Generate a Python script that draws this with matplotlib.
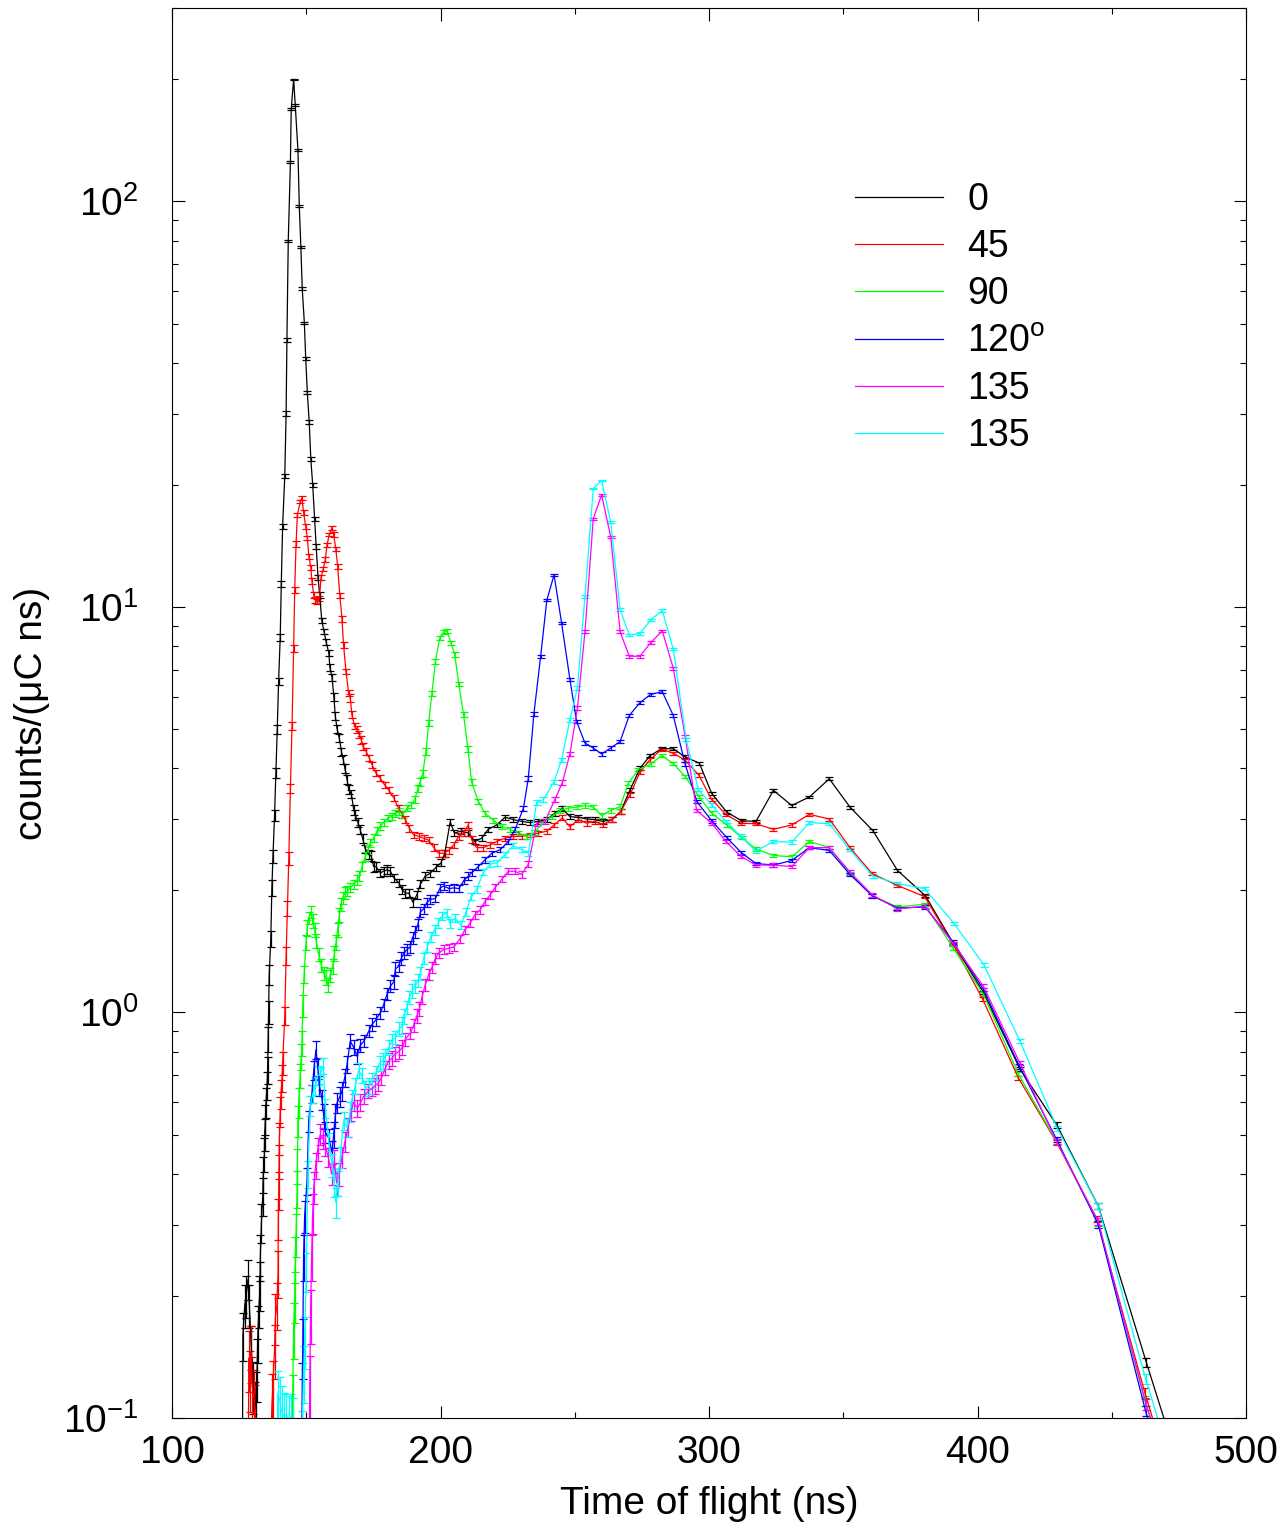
import matplotlib
matplotlib.use("Agg")
import matplotlib.pyplot as plt
from matplotlib.ticker import MultipleLocator, LogLocator, FixedLocator, NullFormatter
from matplotlib.lines import Line2D
import numpy as np

plt.rcParams['font.family'] = ['Liberation Sans', 'DejaVu Sans']
plt.rcParams['mathtext.fontset'] = 'custom'
plt.rcParams['mathtext.rm'] = 'Liberation Sans'
plt.rcParams['mathtext.it'] = 'Liberation Sans:italic'

# Time of flight spectra (ns, counts/(uC ns))
tof_0 = [126.0, 126.4, 127.1, 127.6, 128.3, 128.8, 129.5, 130.2, 130.8, 131.3, 131.7, 132.0, 132.5, 132.8, 132.9,
         133.3, 133.8, 134.0, 134.4, 134.5, 134.8, 135.0, 135.4, 135.6, 135.8, 136.0, 136.2, 136.8, 137.2, 137.6,
         138.2, 138.7, 139.2, 139.7, 140.3, 140.7, 141.2, 142.0, 142.5, 142.8, 143.3, 144.1, 144.4, 145.3, 145.9,
         146.9, 147.4, 148.0, 148.5, 149.3, 149.8, 150.4, 151.1, 151.7, 152.4, 153.1, 153.7, 154.4, 155.0, 155.8,
         156.6, 157.4, 158.4, 158.8, 159.6, 160.3, 160.8, 161.5, 162.3, 163.1, 163.8, 164.4, 165.2, 165.8, 166.8,
         167.7, 168.3, 169.2, 170.1, 171.0, 172.0, 173.3, 174.2, 175.1, 176.0, 177.6, 178.8, 180.1, 181.3, 182.6,
         184.4, 185.7, 186.9, 188.2, 189.7, 191.2, 192.5, 194.3, 196.0, 198.3, 200.2, 201.6, 203.6, 205.2, 207.5,
         210.3, 212.8, 215.3, 217.8, 220.9, 224.0, 227.1, 230.2, 233.3, 236.4, 239.6, 242.6, 245.4, 248.2, 251.3,
         254.4, 257.5, 260.4, 263.8, 267.1, 270.6, 274.3, 278.0, 282.4, 286.7, 291.1, 296.4, 301.0, 306.6, 312.2,
         317.5, 324.0, 330.8, 337.4, 344.8, 352.5, 361.0, 370.2, 380.6, 391.0, 402.2, 415.8, 429.5, 445.0, 462.9,
         481.0]
cnt_0 = [0.03, 0.16, 0.19, 0.20, 0.22, 0.19, 0.15, 0.12, 0.105, 0.11, 0.133, 0.163, 0.195, 0.213, 0.25,
         0.303, 0.353, 0.40, 0.447, 0.50, 0.545, 0.60, 0.66, 0.72, 0.86, 1.0, 1.24, 1.52, 2.03, 2.43,
         3.07, 3.89, 5.0, 6.55, 8.4, 11.4, 15.8, 21.0, 30.0, 45.5, 80.0, 125.0, 169.0, 200.0, 173.0,
         134.0, 97.6, 77.1, 61.0, 50.1, 41.0, 33.8, 28.6, 23.2, 20.0, 16.5, 14.1, 11.8, 10.7, 9.25,
         8.7, 8.2, 7.7, 7.1, 6.7, 6.0, 5.4, 5.0, 4.75, 4.4, 4.2, 4.0, 3.75, 3.55, 3.45,
         3.16, 3.07, 2.94, 2.82, 2.69, 2.53, 2.45, 2.43, 2.29, 2.29, 2.21, 2.23, 2.25, 2.23, 2.15,
         2.09, 2.01, 1.97, 1.97, 1.87, 1.95, 2.07, 2.17, 2.20, 2.28, 2.34, 2.47, 2.95, 2.77, 2.80,
         2.77, 2.64, 2.69, 2.83, 2.90, 3.03, 2.99, 2.96, 2.94, 2.96, 2.99, 3.10, 3.18, 3.04, 3.03,
         3.0, 2.99, 2.96, 2.99, 3.13, 3.54, 4.0, 4.3, 4.47, 4.47, 4.27, 4.12, 3.47, 3.12, 2.97,
         2.96, 3.53, 3.24, 3.40, 3.77, 3.21, 2.81, 2.24, 1.94, 1.48, 1.12, 0.726, 0.528, 0.333, 0.137,
         0.057]

tof_45 = [128.2, 128.6, 129.0, 129.5, 129.9, 130.4, 131.0, 131.8, 133.5, 135.5, 136.7, 137.2, 137.5, 138.2, 138.5,
          139.1, 139.5, 139.6, 139.75, 139.9, 140.0, 140.3, 140.6, 141.0, 141.2, 142.0, 142.5, 143.0, 143.5, 144.1,
          144.7, 145.3, 145.7, 146.2, 146.7, 147.8, 148.4, 149.0, 149.8, 150.4, 151.0, 151.7, 152.1, 152.8, 153.4,
          154.1, 154.9, 155.5, 156.3, 157.1, 157.7, 158.6, 159.6, 160.2, 161.0, 161.7, 162.5, 163.3, 163.9, 164.8,
          165.8, 166.4, 167.0, 168.0, 168.9, 169.8, 170.5, 171.2, 172.3, 173.5, 174.5, 176.0, 177.6, 179.2, 180.7,
          182.6, 184.4, 185.7, 186.9, 188.4, 190.0, 191.9, 193.7, 195.6, 197.5, 199.3, 201.2, 203.1, 204.9, 206.8,
          208.6, 210.3, 211.6, 213.5, 216.0, 218.5, 220.9, 224.0, 227.1, 230.2, 233.3, 236.4, 239.6, 242.3, 245.4,
          248.2, 251.3, 254.4, 257.5, 260.4, 263.8, 267.1, 270.6, 274.3, 278.0, 282.4, 286.7, 291.1, 296.2, 301.0,
          306.3, 311.8, 317.5, 324.0, 330.8, 337.4, 344.8, 352.5, 360.8, 370.0, 380.3, 391.0, 401.9, 415.2, 429.5,
          444.4, 462.4, 481.0]
cnt_45 = [0.03, 0.14, 0.125, 0.145, 0.12, 0.113, 0.105, 0.07, 0.05, 0.06, 0.08, 0.107, 0.118, 0.147, 0.177,
          0.19, 0.228, 0.31, 0.365, 0.43, 0.49, 0.57, 0.63, 0.69, 0.75, 0.98, 1.38, 1.81, 2.40, 3.57,
          5.1, 7.9, 11.0, 14.3, 16.9, 18.2, 18.6, 17.1, 15.8, 14.8, 13.3, 12.5, 11.6, 10.7, 10.4,
          10.3, 10.5, 11.8, 12.4, 13.1, 14.2, 15.1, 15.7, 15.1, 13.9, 12.6, 10.7, 9.35, 8.05, 6.93,
          6.13, 5.96, 5.42, 5.09, 4.98, 4.84, 4.70, 4.53, 4.40, 4.24, 4.08, 3.89, 3.78, 3.64, 3.54,
          3.38, 3.19, 3.08, 2.99, 2.85, 2.74, 2.72, 2.69, 2.66, 2.55, 2.47, 2.47, 2.51, 2.59, 2.72,
          2.77, 2.90, 2.67, 2.55, 2.55, 2.59, 2.64, 2.69, 2.72, 2.72, 2.74, 2.77, 2.80, 2.90, 3.02,
          2.87, 2.99, 2.93, 2.96, 2.90, 2.99, 3.13, 3.44, 3.92, 4.2, 4.46, 4.36, 4.19, 3.85, 3.35,
          3.08, 2.93, 2.92, 2.83, 2.90, 3.08, 3.0, 2.55, 2.20, 2.06, 1.93, 1.47, 1.08, 0.69, 0.478,
          0.31, 0.115, 0.045]

tof_90 = [144.4, 144.9, 145.3, 145.7, 145.9, 146.2, 146.6, 146.7, 146.9, 147.2, 147.7, 148.2, 148.4, 148.7, 149.2,
          149.9, 150.4, 150.9, 151.9, 152.4, 153.1, 153.7, 154.6, 155.6, 156.5, 157.4, 158.1, 159.0, 159.9, 160.5,
          161.1, 161.7, 162.3, 162.9, 163.6, 164.3, 165.2, 166.4, 167.7, 168.9, 169.8, 170.8, 172.0, 173.0, 173.9,
          175.1, 176.4, 177.6, 178.8, 180.4, 181.9, 183.2, 184.7, 185.9, 187.5, 189.1, 190.4, 191.6, 192.5, 193.4,
          194.6, 195.6, 196.8, 198.1, 199.7, 201.2, 202.4, 203.9, 205.3, 206.8, 208.6, 210.2, 211.6, 214.1, 216.6,
          219.7, 222.8, 225.9, 229.0, 232.1, 235.2, 238.3, 241.4, 244.5, 247.6, 250.7, 253.8, 256.9, 260.0, 263.4,
          266.9, 270.0, 273.7, 278.3, 282.4, 286.7, 291.1, 296.2, 301.0, 306.6, 312.2, 317.5, 324.0, 330.8, 337.4,
          344.8, 352.5, 360.8, 370.2, 380.3, 391.0, 402.2, 415.2, 429.5, 445.0, 462.4, 481.0]
cnt_90 = [0.04, 0.108, 0.166, 0.20, 0.247, 0.284, 0.368, 0.42, 0.54, 0.60, 0.70, 0.78, 0.84, 1.04, 1.24,
          1.49, 1.62, 1.71, 1.77, 1.68, 1.60, 1.50, 1.39, 1.31, 1.25, 1.22, 1.17, 1.24, 1.30, 1.40,
          1.49, 1.60, 1.74, 1.85, 1.92, 1.97, 1.99, 2.03, 2.07, 2.12, 2.17, 2.29, 2.43, 2.52, 2.62,
          2.69, 2.80, 2.88, 2.94, 3.02, 3.04, 3.09, 3.13, 3.08, 3.19, 3.25, 3.35, 3.57, 3.71, 3.89,
          4.40, 5.18, 6.13, 7.33, 8.37, 8.69, 8.74, 8.15, 7.63, 6.45, 5.42, 4.47, 3.70, 3.31, 3.10,
          2.98, 2.87, 2.83, 2.77, 2.72, 2.78, 2.96, 3.04, 3.15, 3.19, 3.21, 3.24, 3.21, 3.06, 3.15,
          3.22, 3.68, 3.97, 4.1, 4.3, 4.11, 3.82, 3.41, 3.1, 2.9, 2.70, 2.53, 2.44, 2.42, 2.64,
          2.55, 2.20, 1.94, 1.82, 1.85, 1.44, 1.11, 0.705, 0.48, 0.303, 0.11, 0.045]

tof_120 = [148.0, 148.5, 148.7, 149.0, 149.4, 150.3, 150.9, 152.1, 152.8, 153.6, 154.3, 154.9, 155.9, 156.5, 157.1,
           158.4, 159.6, 160.2, 160.8, 161.5, 162.5, 163.3, 164.3, 165.2, 166.4, 167.7, 168.9, 170.1, 171.5, 173.3,
           174.5, 176.0, 177.6, 178.8, 180.1, 181.3, 182.6, 183.2, 184.4, 185.4, 186.3, 187.5, 188.7, 189.6, 190.6,
           191.6, 192.5, 193.7, 195.0, 196.2, 198.1, 199.9, 201.2, 203.3, 205.0, 206.8, 208.8, 210.4, 211.6, 214.1,
           216.6, 219.1, 222.2, 225.3, 227.8, 230.9, 232.7, 234.8, 237.3, 239.6, 242.3, 245.1, 248.2, 250.7, 253.8,
           256.9, 260.0, 263.4, 266.9, 270.3, 274.3, 278.3, 282.6, 286.7, 291.1, 295.5, 301.0, 306.6, 312.0, 317.5,
           324.0, 330.8, 337.4, 344.8, 352.5, 360.8, 370.2, 380.5, 391.0, 402.2, 415.6, 429.5, 445.0, 462.6, 481.0]
cnt_120 = [0.05, 0.115, 0.15, 0.25, 0.315, 0.385, 0.54, 0.63, 0.72, 0.81, 0.73, 0.66, 0.61, 0.556, 0.506,
           0.49, 0.452, 0.50, 0.556, 0.60, 0.62, 0.64, 0.69, 0.745, 0.85, 0.82, 0.78, 0.83, 0.85, 0.90,
           0.935, 0.96, 1.0, 1.045, 1.11, 1.16, 1.19, 1.28, 1.30, 1.36, 1.40, 1.43, 1.45, 1.53, 1.58,
           1.65, 1.77, 1.80, 1.87, 1.90, 1.91, 2.03, 2.05, 2.02, 2.03, 2.02, 2.12, 2.17, 2.21, 2.29,
           2.38, 2.47, 2.52, 2.64, 2.83, 3.19, 3.78, 5.46, 7.56, 10.4, 12.0, 9.13, 6.63, 5.22, 4.62,
           4.49, 4.34, 4.49, 4.66, 5.40, 5.81, 6.09, 6.18, 5.40, 4.10, 3.31, 2.97, 2.70, 2.48, 2.33,
           2.31, 2.37, 2.55, 2.51, 2.19, 1.94, 1.81, 1.82, 1.49, 1.14, 0.737, 0.486, 0.30, 0.104, 0.04]

tof_135a = [150.8, 151.3, 151.6, 152.0, 152.4, 152.8, 153.5, 154.3, 155.2, 156.2, 157.0, 158.2, 159.5, 160.5, 161.3,
            162.2, 163.3, 164.4, 165.6, 166.6, 167.6, 169.0, 170.2, 171.4, 173.1, 174.5, 175.7, 176.8, 178.0, 179.5,
            180.7, 181.8, 183.1, 184.4, 185.8, 186.9, 188.8, 190.0, 191.2, 192.1, 193.1, 194.3, 195.6, 196.8, 198.1,
            199.3, 201.2, 203.1, 204.9, 207.3, 209.1, 211.0, 212.8, 214.7, 216.6, 218.5, 220.3, 222.8, 225.3, 227.8,
            230.2, 232.7, 235.8, 238.9, 242.6, 245.4, 248.2, 251.0, 253.8, 256.9, 260.0, 263.4, 266.9, 270.3, 274.3,
            278.3, 282.6, 286.7, 291.1, 295.4, 301.0, 306.3, 311.8, 317.5, 324.0, 330.8, 337.4, 344.8, 352.5, 360.8,
            370.2, 380.3, 391.0, 402.2, 415.8, 429.5, 445.0, 462.8, 481.0]
cnt_135a = [0.05, 0.12, 0.18, 0.25, 0.32, 0.37, 0.42, 0.46, 0.50, 0.49, 0.47, 0.44, 0.40, 0.43, 0.38,
            0.40, 0.44, 0.48, 0.52, 0.57, 0.60, 0.58, 0.60, 0.62, 0.64, 0.65, 0.66, 0.67, 0.69, 0.73,
            0.76, 0.77, 0.79, 0.80, 0.82, 0.86, 0.89, 0.93, 0.98, 1.02, 1.09, 1.17, 1.24, 1.29, 1.36,
            1.40, 1.43, 1.44, 1.45, 1.52, 1.60, 1.66, 1.74, 1.79, 1.88, 1.95, 2.03, 2.13, 2.23, 2.23,
            2.19, 2.32, 2.93, 2.96, 3.35, 3.69, 4.34, 5.63, 8.69, 16.5, 18.9, 14.9, 8.69, 7.56, 7.56,
            8.17, 8.73, 7.06, 4.80, 3.15, 2.93, 2.64, 2.43, 2.31, 2.31, 2.29, 2.55, 2.55, 2.22, 1.95,
            1.80, 1.83, 1.48, 1.16, 0.75, 0.48, 0.305, 0.108, 0.045]

tof_135b = [138.6, 139.4, 140.2, 140.8, 141.6, 142.5, 143.4, 144.3, 145.2, 146.2, 147.5, 148.4, 149.0, 149.4, 150.0,
            150.6, 151.5, 152.4, 153.4, 154.2, 155.0, 156.4, 157.1, 158.4, 159.6, 160.3, 161.0, 161.7, 162.7, 163.9,
            165.2, 166.4, 167.0, 168.3, 169.5, 170.7, 172.0, 173.3, 174.5, 176.0, 177.3, 178.5, 179.5, 180.7, 181.9,
            183.2, 184.7, 185.7, 186.3, 187.5, 188.4, 189.5, 190.4, 191.6, 192.5, 193.7, 195.1, 196.5, 197.8, 199.2,
            200.4, 202.3, 203.5, 205.4, 207.6, 209.5, 211.4, 213.5, 216.0, 218.5, 220.9, 224.0, 227.1, 230.2, 232.7,
            235.8, 238.3, 242.3, 245.1, 248.2, 251.0, 253.8, 256.9, 260.0, 263.4, 266.9, 270.3, 274.3, 278.3, 282.6,
            286.7, 291.5, 296.0, 301.0, 306.3, 311.8, 317.5, 324.0, 330.8, 337.4, 344.8, 352.5, 361.0, 370.0, 380.3,
            391.2, 402.4, 415.8, 429.7, 445.0, 462.6, 481.0]
cnt_135b = [0.03, 0.115, 0.11, 0.104, 0.101, 0.101, 0.100, 0.101, 0.099, 0.07, 0.06, 0.09, 0.13, 0.155, 0.23,
            0.40, 0.59, 0.63, 0.66, 0.70, 0.70, 0.74, 0.58, 0.48, 0.42, 0.38, 0.34, 0.38, 0.44, 0.54,
            0.52, 0.57, 0.61, 0.66, 0.72, 0.70, 0.65, 0.66, 0.68, 0.71, 0.75, 0.76, 0.78, 0.82, 0.85,
            0.87, 0.91, 0.93, 0.98, 1.03, 1.09, 1.13, 1.16, 1.20, 1.25, 1.36, 1.45, 1.54, 1.60, 1.66,
            1.73, 1.76, 1.66, 1.71, 1.64, 1.77, 1.93, 2.01, 2.22, 2.32, 2.34, 2.45, 2.58, 2.52, 2.47,
            3.29, 3.35, 3.71, 4.2, 5.27, 6.32, 10.6, 19.6, 20.5, 16.2, 9.86, 8.53, 8.6, 9.3, 9.8,
            7.87, 4.71, 3.55, 3.25, 2.96, 2.72, 2.50, 2.64, 2.63, 2.94, 2.92, 2.52, 2.17, 2.08, 2.02,
            1.66, 1.31, 0.85, 0.518, 0.333, 0.125, 0.05]

labels = ['0', '45', '90', r'120$^{\rm o}$', '135', '135']
colors = ['#000000', '#ff0000', '#00ff00', '#0000ff', '#ff00ff', '#00ffff']
series = [(tof_0, cnt_0), (tof_45, cnt_45), (tof_90, cnt_90),
          (tof_120, cnt_120), (tof_135a, cnt_135a), (tof_135b, cnt_135b)]

# counting statistics: error ~ sqrt(N), N = rate * charge * bin width
charge = 600.0

fig = plt.figure(figsize=(12.86, 15.28), dpi=100)
ax = fig.add_axes([172 / 1286, 1 - 1418 / 1528, (1246 - 172) / 1286, (1418 - 8) / 1528])

for (t, c), col in zip(series, colors):
    t = np.array(t)
    c = np.array(c)
    dt = np.clip(np.gradient(t), 0.4, None)
    err = np.sqrt(c / (charge * dt))
    ax.errorbar(t, c, yerr=err, color=col, lw=0.9, elinewidth=0.9,
                capsize=3, capthick=0.9)

ax.set_yscale('log')
ax.set_xlim(100, 500)
ax.set_ylim(0.1, 300)

ax.xaxis.set_major_locator(MultipleLocator(100))
ax.xaxis.set_minor_locator(MultipleLocator(50))
ax.yaxis.set_major_locator(FixedLocator([0.1, 1, 10, 100]))
ax.yaxis.set_minor_locator(LogLocator(base=10, subs=np.arange(2, 10)))
ax.yaxis.set_minor_formatter(NullFormatter())
ax.set_yticklabels([r'$10^{-1}$', r'$10^{0}$', r'$10^{1}$', r'$10^{2}$'])

ax.tick_params(which='both', direction='in', top=True, right=True, labelsize=28, width=0.8)
ax.tick_params(axis='x', which='major', pad=12.5)
ax.tick_params(axis='y', which='major', pad=24)
ax.tick_params(which='major', length=9)
ax.tick_params(which='minor', length=4.5)
for s in ax.spines.values():
    s.set_linewidth(0.8)

ax.set_xlabel('Time of flight (ns)', fontsize=28)
ax.set_ylabel('counts/(μC ns)', fontsize=28)
ax.xaxis.set_label_coords(0.5, -0.048)
ax.yaxis.set_label_coords(-0.114, 0.5)

lh = [Line2D([], [], color=col, lw=0.9) for col in colors]
ax.legend(lh, labels, loc='upper left', bbox_to_anchor=(855 / 1286, 1 - 182 / 1528),
          bbox_transform=fig.transFigure, frameon=False, fontsize=27,
          handlelength=2.35, handletextpad=0.64, labelspacing=0.3,
          borderpad=0, borderaxespad=0)

fig.savefig('out.png', dpi=100)
